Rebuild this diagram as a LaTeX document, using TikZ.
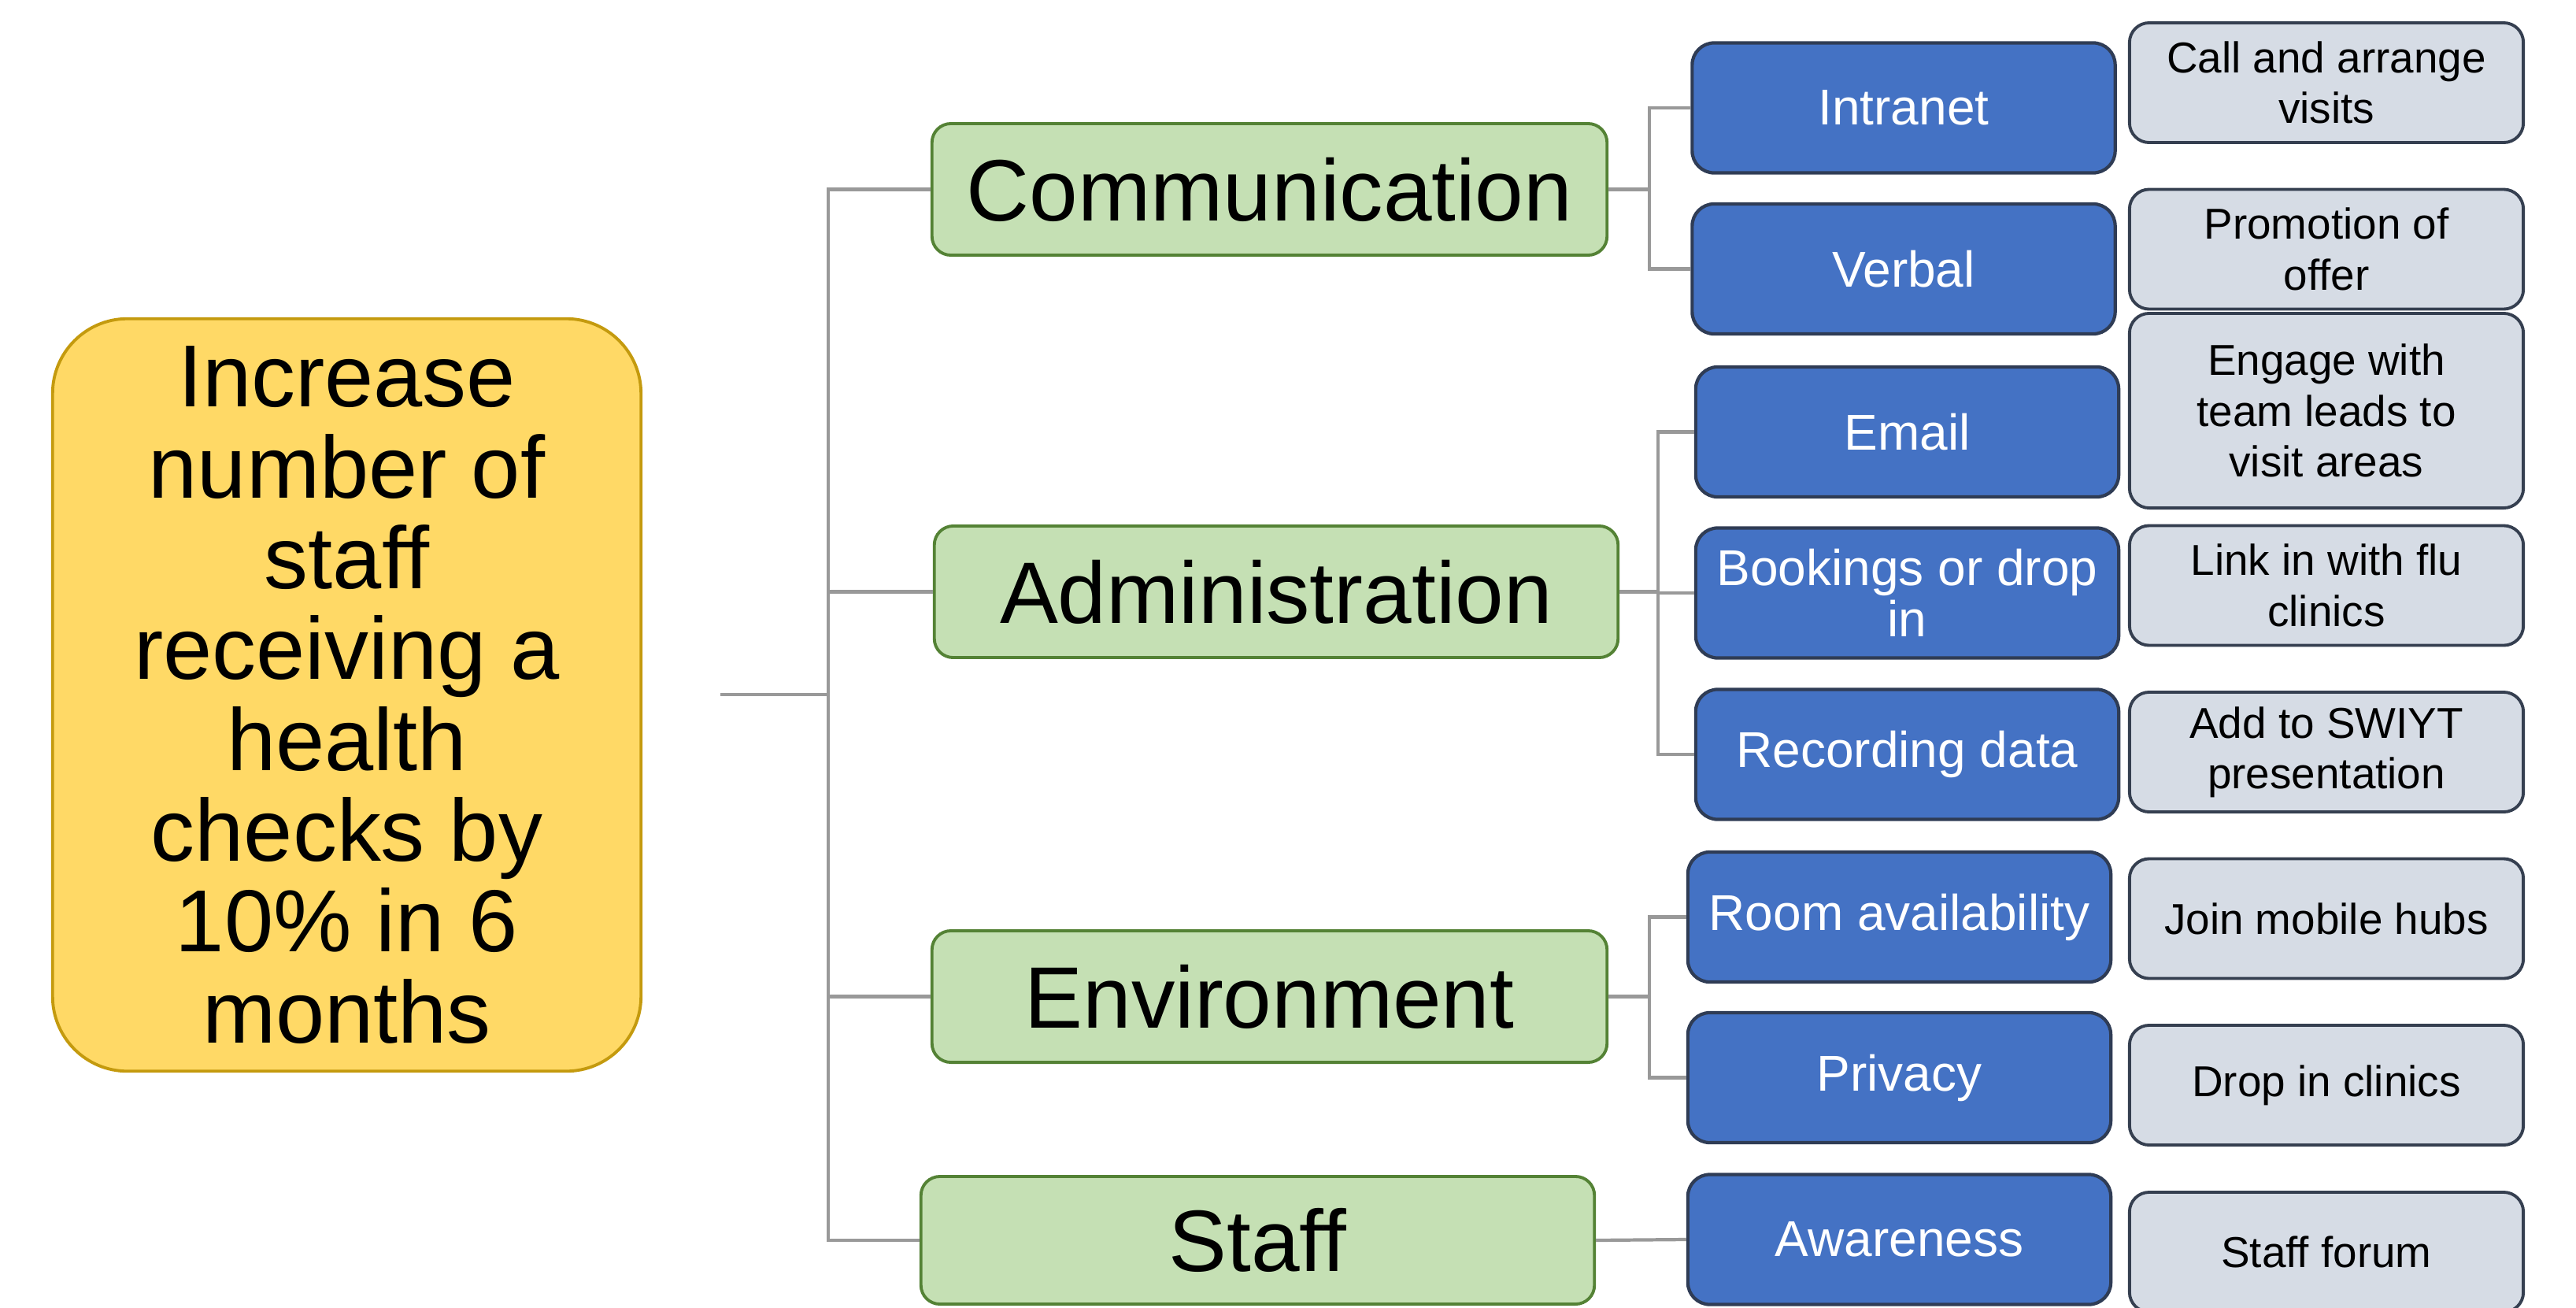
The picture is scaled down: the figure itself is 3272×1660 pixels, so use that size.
\documentclass[tikz,border=0pt]{standalone}
\usepackage{fontspec}
\setmainfont{Liberation Sans}
\usepackage{tikz}
\usetikzlibrary{shapes,arrows.meta}

\definecolor{goalfill}{HTML}{FFD966}
\definecolor{goalline}{HTML}{C49A0E}
\definecolor{areafill}{HTML}{C5E0B4}
\definecolor{arealine}{HTML}{548235}
\definecolor{meansfill}{HTML}{4472C4}
\definecolor{meansline}{HTML}{2F3C55}
\definecolor{ideafill}{HTML}{D6DCE5}
\definecolor{idealine}{HTML}{353F50}
\definecolor{linkgray}{HTML}{999999}

\tikzset{
  goal/.style={draw=goalline, fill=goalfill, line width=1.1pt, rounded corners=0.95cm,
    minimum width=7.47cm, minimum height=9.55cm, inner sep=0pt, align=center,
    font=\fontsize{31.8pt}{32.8pt}\selectfont},
  area/.style={draw=arealine, fill=areafill, line width=1.1pt, rounded corners=0.24cm,
    minimum height=1.67cm, inner sep=0pt, align=center,
    font=\fontsize{31.5pt}{34pt}\selectfont},
  means/.style={draw=meansline, fill=meansfill, line width=1.2pt, rounded corners=0.28cm,
    minimum width=5.37cm, minimum height=1.65cm, inner sep=0pt, align=center, text=white,
    font=\fontsize{18.2pt}{18.6pt}\selectfont},
  idea/.style={draw=idealine, fill=ideafill, line width=1.1pt, rounded corners=0.25cm,
    minimum width=5cm, minimum height=1.52cm, inner sep=0pt, align=center,
    font=\fontsize{15.6pt}{18.3pt}\selectfont},
  link/.style={draw=linkgray, line width=1.2pt}
}

\begin{document}
\begin{tikzpicture}[x=0.01cm, y=-0.01cm]
\useasboundingbox (0,0) rectangle (3272,1660);
\clip (0,0) rectangle (3272,1660);

% Goal
\node[goal] (goal) at (440.5,882.5) {Increase\\number of\\staff\\receiving a\\health\\checks by\\10\% in 6\\months};
\coordinate (root) at (915,882);
\coordinate (trunk) at (1052,882);

% Areas
\node[area, minimum width=8.57cm] (comm) at (1612.5,240.5) {Communication};
\node[area, minimum width=8.68cm] (admin) at (1621,751.5) {Administration};
\node[area, minimum width=8.57cm] (env) at (1612.5,1265.5) {Environment};
\node[area, minimum width=8.55cm, minimum height=1.62cm] (staff) at (1597.5,1575) {Staff};

% Means
\node[means] (intranet) at (2418,137) {Intranet};
\node[means] (verbal) at (2418,341.5) {Verbal};
\node[means] (email) at (2422.5,548.5) {Email};
\node[means] (bookings) at (2422.5,753) {Bookings or drop\\in};
\node[means] (recording) at (2422.5,958) {Recording data};
\node[means] (room) at (2412.5,1164.5) {Room availability};
\node[means] (privacy) at (2412.5,1368.5) {Privacy};
\node[means] (awareness) at (2412.5,1574) {Awareness};

% Ideas
\node[idea] (call) at (2955,105) {Call and arrange\\visits};
\node[idea] (promo) at (2955,316.5) {Promotion of\\offer};
\node[idea, minimum height=2.47cm] (engage) at (2955,521.5) {Engage with\\team leads to\\visit areas};
\node[idea] (flu) at (2955,743.5) {Link in with flu\\clinics};
\node[idea] (swiyt) at (2955,955) {Add to SWIYT\\presentation};
\node[idea] (hubs) at (2955,1166.5) {Join mobile hubs};
\node[idea] (dropin) at (2955,1378) {Drop in clinics};
\node[idea] (forum) at (2955,1590) {Staff forum};

% Tree lines
\draw[link] (root) -- (trunk);
\draw[link] (trunk) |- (comm.west);
\draw[link] (trunk) |- (admin.west);
\draw[link] (trunk) |- (env.west);
\draw[link] (trunk) |- (staff.west);

\draw[link] (comm.east) -- ++(52,0) |- (intranet.west);
\draw[link] (comm.east) -- ++(52,0) |- (verbal.west);
\draw[link] (admin.east) -- ++(49,0) |- (email.west);
\draw[link] (admin.east) -- ++(49,0) |- (bookings.west);
\draw[link] (admin.east) -- ++(49,0) |- (recording.west);
\draw[link] (env.east) -- ++(52,0) |- (room.west);
\draw[link] (env.east) -- ++(52,0) |- (privacy.west);
\draw[link] (staff.east) -- (awareness.west);

\end{tikzpicture}
\end{document}
